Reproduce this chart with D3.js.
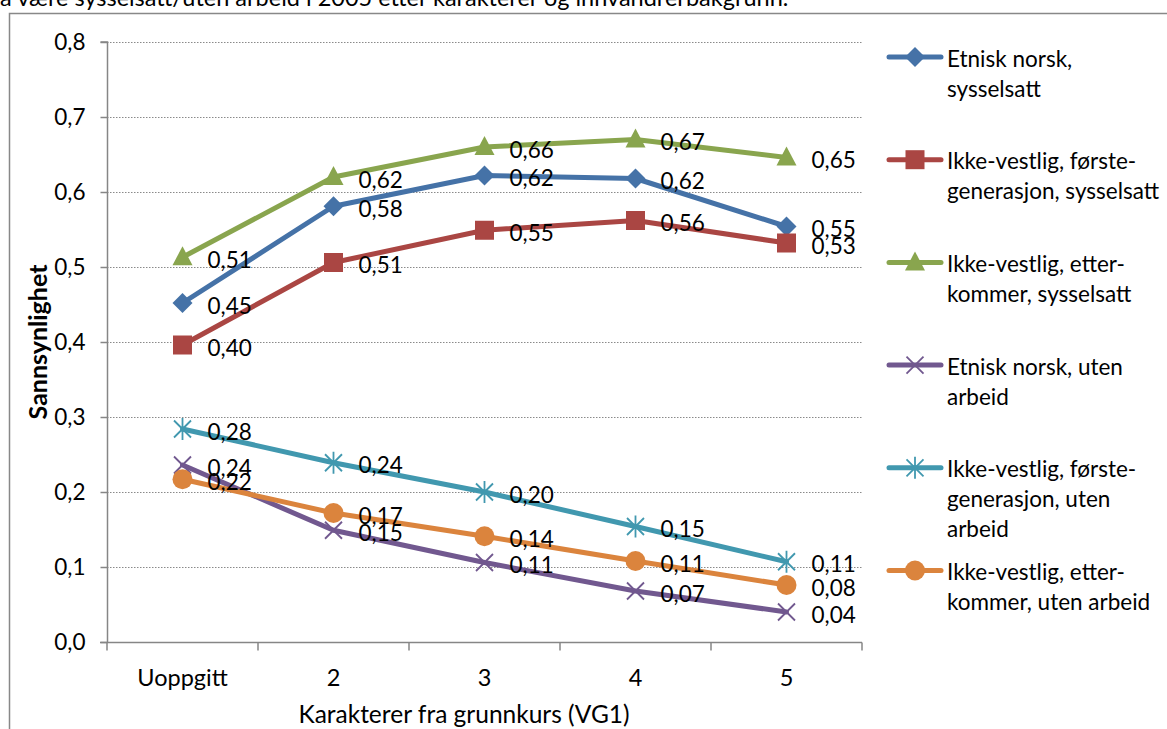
<!DOCTYPE html>
<html><head><meta charset="utf-8">
<script src="https://cdn.jsdelivr.net/npm/d3@7/dist/d3.min.js"></script>
<style>body{margin:0;background:#fff;}svg{display:block;font-family:Lato,"Open Sans",sans-serif;}</style>
</head><body>
<svg id="c" width="1167" height="729"></svg>
<script>
const categories = ["Uoppgitt", "2", "3", "4", "5"];
const yTicks = [0, 0.1, 0.2, 0.3, 0.4, 0.5, 0.6, 0.7, 0.8];
const seriesNames = [
  ["Etnisk norsk,", "sysselsatt"],
  ["Ikke-vestlig, første-", "generasjon, sysselsatt"],
  ["Ikke-vestlig, etter-", "kommer, sysselsatt"],
  ["Etnisk norsk,  uten", "arbeid"],
  ["Ikke-vestlig, første-", "generasjon, uten", "arbeid"],
  ["Ikke-vestlig, etter-", "kommer, uten arbeid"]
];
const etniskSys = [0.452, 0.581, 0.622, 0.618, 0.554];
const forsteSys = [0.396, 0.506, 0.549, 0.562, 0.532];
const etterSys = [0.513, 0.620, 0.660, 0.670, 0.646];
const etniskUten = [0.236, 0.149, 0.106, 0.068, 0.040];
const forsteUten = [0.284, 0.239, 0.200, 0.154, 0.107];
const etterUten = [0.217, 0.172, 0.141, 0.108, 0.076];
const titleText = "å være sysselsatt/uten arbeid i 2005 etter karakterer og innvandrerbakgrunn.";
const yTitle = "Sannsynlighet";
const xTitle = "Karakterer fra grunnkurs (VG1)";

(function () {
const series = [
  {name: seriesNames[0], values: etniskSys, color: "#4572A7", marker: "diamond"},
  {name: seriesNames[1], values: forsteSys, color: "#AA4643", marker: "square"},
  {name: seriesNames[2], values: etterSys, color: "#89A54E", marker: "triangle"},
  {name: seriesNames[3], values: etniskUten, color: "#71588F", marker: "x"},
  {name: seriesNames[4], values: forsteUten, color: "#4198AF", marker: "star"},
  {name: seriesNames[5], values: etterUten, color: "#DB843D", marker: "circle"}
];
const FS = 22.5;

const svg = d3.select("#c");
const pl = 107, pr = 862, pt = 42, pb = 642;
const x = d3.scaleBand().domain(categories).range([pl, pr]);
const y = d3.scaleLinear().domain([0, 0.8]).range([pb, pt]);
const fmt = v => d3.format(".2f")(v).replace(".", ",");
const fmt1 = v => d3.format(".1f")(v).replace(".", ",");

svg.append("text").attr("x", 0).attr("y", 6).attr("font-size", 23.5).attr("fill", "#000").text(titleText);

svg.append("rect").attr("x", 9.5).attr("y", 13.5).attr("width", 1300).attr("height", 900)
  .attr("fill", "none").attr("stroke", "#888").attr("stroke-width", 1.5);

svg.append("g").selectAll("line").data(yTicks.filter(t => t > 0)).join("line")
  .attr("x1", pl).attr("x2", pr)
  .attr("y1", d => Math.round(y(d)) + 0.5).attr("y2", d => Math.round(y(d)) + 0.5)
  .attr("stroke", "#8a8a8a").attr("stroke-width", 1).attr("stroke-dasharray", "1.5,1.5");

const yAxis = d3.axisLeft(y).tickValues(yTicks).tickSize(7).tickPadding(15).tickFormat(fmt1);
const gy = svg.append("g").attr("transform", `translate(${pl + 0.5},0)`).call(yAxis);
gy.selectAll("text").attr("font-size", FS).attr("fill", "#000").attr("font-family", "Lato");
gy.selectAll("line,path").attr("stroke", "#868686").attr("stroke-width", 1.5);
gy.select("path").attr("d", `M-7,${y(0.8)}H0V${pb}`);

const xAxis = d3.axisBottom(x).tickSize(0);
const gx = svg.append("g").attr("transform", `translate(0,${pb + 0.5})`).call(xAxis);
gx.selectAll("text").attr("font-size", 23.5).attr("fill", "#000").attr("font-family", "Lato")
  .attr("y", 43.5).attr("dy", 0);
gx.select("path").attr("stroke", "#868686").attr("stroke-width", 1.5).attr("d", `M${pl - 7},0H${pr}`);
const bounds = categories.map(c => x(c)).concat([pr]);
gx.selectAll("line.b").data(bounds).join("line").attr("class", "b")
  .attr("x1", d => d).attr("x2", d => d).attr("y1", 0).attr("y2", 8)
  .attr("stroke", "#868686").attr("stroke-width", 1.5);

svg.append("text").attr("transform", `translate(37,${(pt + pb) / 2}) rotate(-90)`)
  .attr("text-anchor", "middle").attr("dominant-baseline", "central")
  .attr("font-size", 25).attr("font-weight", "bold").text(yTitle);
svg.append("text").attr("x", 464).attr("y", 723).attr("text-anchor", "middle")
  .attr("font-size", 24.5).text(xTitle);

function drawMarker(g, type, color, cx, cy) {
  const m = g.append("g").attr("transform", `translate(${cx},${cy})`);
  if (type === "diamond") m.append("path").attr("d", "M0,-10L10,0L0,10L-10,0Z").attr("fill", color);
  else if (type === "square") m.append("rect").attr("x", -9.5).attr("y", -9.5).attr("width", 19).attr("height", 19).attr("fill", color);
  else if (type === "triangle") m.append("path").attr("d", "M0,-11L10,8L-10,8Z").attr("fill", color);
  else if (type === "circle") m.append("circle").attr("r", 10).attr("fill", color);
  else if (type === "x") m.append("path").attr("d", "M-8.5,-8.5L8.5,8.5M-8.5,8.5L8.5,-8.5").attr("stroke", color).attr("stroke-width", 1.8);
  else if (type === "star") m.append("path").attr("d", "M-8.5,-8.5L8.5,8.5M-8.5,8.5L8.5,-8.5M0,-11V11").attr("stroke", color).attr("stroke-width", 1.8);
}

const line = d3.line().x((d, i) => x(categories[i]) + x.bandwidth() / 2).y(d => y(d));
const plot = svg.append("g");
series.forEach(s => {
  plot.append("path").attr("d", line(s.values)).attr("fill", "none")
    .attr("stroke", s.color).attr("stroke-width", 5).attr("stroke-linejoin", "round").attr("stroke-linecap", "round");
});
series.forEach(s => {
  s.values.forEach((v, i) => drawMarker(plot, s.marker, s.color, x(categories[i]) + x.bandwidth() / 2, y(v)));
});
series.forEach(s => {
  s.values.forEach((v, i) => {
    plot.append("text").attr("x", x(categories[i]) + x.bandwidth() / 2 + 25).attr("y", y(v) + 2)
      .attr("dominant-baseline", "central").attr("font-size", FS).attr("fill", "#000").text(fmt(v));
  });
});

const lg = svg.append("g");
let ly = 57;
series.forEach((s) => {
  lg.append("line").attr("x1", 889).attr("x2", 941).attr("y1", ly).attr("y2", ly)
    .attr("stroke", s.color).attr("stroke-width", 5).attr("stroke-linecap", "round");
  drawMarker(lg, s.marker, s.color, 915, ly);
  s.name.forEach((t, j) => {
    lg.append("text").attr("x", 947).attr("y", ly + j * 30 + 1).attr("dominant-baseline", "central")
      .attr("font-size", FS).attr("fill", "#000").text(t);
  });
  ly += 102.7;
});
})();
</script>
</body></html>
